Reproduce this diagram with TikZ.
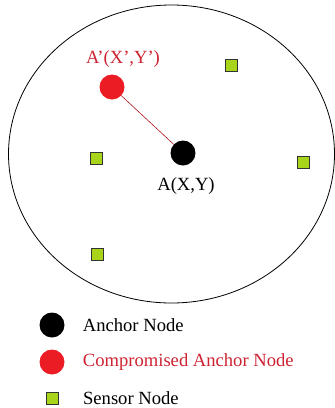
\documentclass[tikz,border=0pt]{standalone}
\usepackage{fontspec}
\setmainfont{Liberation Serif}
\usetikzlibrary{positioning}
\definecolor{compred}{RGB}{236,28,36}
\definecolor{comptext}{RGB}{205,35,50}
\definecolor{sensorgreen}{RGB}{168,212,26}

\begin{document}
\begin{tikzpicture}[x=1pt, y=-1pt,
    anchorpt/.style={circle, fill=black, minimum size=25pt, inner sep=0pt},
    comppt/.style={circle, fill=compred, minimum size=25pt, inner sep=0pt},
    sensor/.style={rectangle, draw=black!80, fill=sensorgreen, minimum size=12pt, inner sep=0pt, line width=0.8pt},
    lbl/.style={font=\fontsize{18.6}{21}\selectfont, inner sep=1pt}
]
\useasboundingbox (0,0) rectangle (335,408);

% field
\draw[line width=0.8pt] (171.5,154) ellipse (163 and 149);

\node[anchorpt] (anc) at (183,153) {};
\node[comppt] (comp) at (112,87) {};
\draw[compred!75!black, line width=0.6pt] (comp) -- (anc);
\node[lbl, text=comptext] (complbl) at (123,59) {A'(X',Y')};
\node[lbl] (anclbl) at (186,186) {A(X,Y)};

\node[sensor] (s1) at (96,158) {};
\node[sensor] (s2) at (231,65) {};
\node[sensor] (s3) at (303,162) {};
\node[sensor] (s4) at (97,254) {};

% legend
\node[anchorpt] (leganc) at (52,325) {};
\node[comppt] (legcomp) at (52,362) {};
\node[sensor] (legsen) at (52,398) {};
\node[lbl, right=17pt of leganc] (ltxt1) {Anchor Node};
\node[lbl, right=17pt of legcomp, text=comptext] (ltxt2) {Compromised Anchor Node};
\node[lbl, right=23.5pt of legsen] (ltxt3) {Sensor Node};
\end{tikzpicture}
\end{document}
